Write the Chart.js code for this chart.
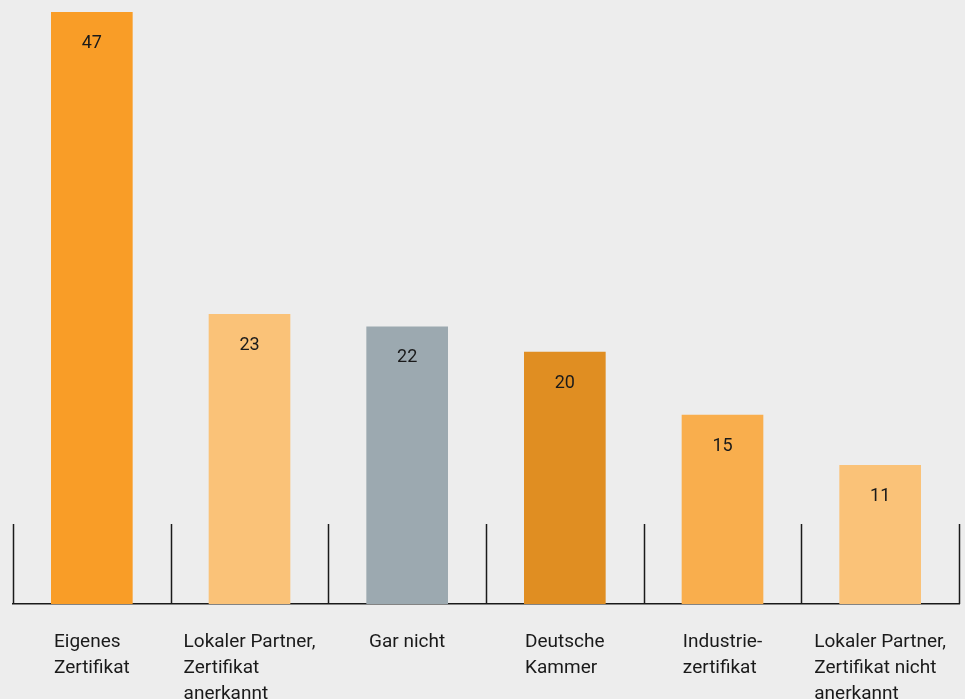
<!DOCTYPE html>
<html lang="de">
<head>
<meta charset="utf-8">
<title>Zertifikate</title>
<script src="https://cdn.jsdelivr.net/npm/chart.js@4/dist/chart.umd.min.js"></script>
<style>
    html, body {
        margin: 0;
        padding: 0;
        background: #ededed;
    }
    #wrap {
        width: 965px;
        height: 699px;
        position: relative;
    }
</style>
</head>
<body>
<div id="wrap"><canvas id="certChart"></canvas></div>
<script>
    const categories = [
        ['Eigenes', 'Zertifikat'],
        ['Lokaler Partner,', 'Zertifikat', 'anerkannt'],
        ['Gar nicht'],
        ['Deutsche', 'Kammer'],
        ['Industrie-', 'zertifikat'],
        ['Lokaler Partner,', 'Zertifikat nicht', 'anerkannt']
    ];
    const values = [47, 23, 22, 20, 15, 11];
    const barColors = ['#f99d27', '#fac278', '#9ca9b0', '#e08e22', '#f9ae4d', '#fac278'];

    const FONT = 'Roboto, "DejaVu Sans", sans-serif';

    // value printed inside the top of each bar
    const valueLabels = {
        id: 'valueLabels',
        afterDatasetsDraw(chart) {
            const ctx = chart.ctx;
            const meta = chart.getDatasetMeta(0);
            ctx.save();
            ctx.font = '18px ' + FONT;
            ctx.fillStyle = '#1a1a1a';
            ctx.textAlign = 'center';
            ctx.textBaseline = 'middle';
            meta.data.forEach((bar, i) => {
                ctx.fillText(String(values[i]), bar.x, bar.y + 31);
            });
            ctx.restore();
        }
    };

    // short dividers between categories plus left-aligned label blocks
    const categoryFrame = {
        id: 'categoryFrame',
        afterDraw(chart) {
            const ctx = chart.ctx;
            const area = chart.chartArea;
            const n = categories.length;
            const step = (area.right - area.left) / n;

            ctx.save();
            ctx.strokeStyle = '#1a1a1a';
            ctx.lineWidth = 1.5;
            for (let i = 0; i <= n; i++) {
                const x = Math.round(area.left + i * step) + 0.5;
                ctx.beginPath();
                ctx.moveTo(x, area.bottom);
                ctx.lineTo(x, area.bottom - 80);
                ctx.stroke();
            }

            ctx.font = '19px ' + FONT;
            ctx.fillStyle = '#1a1a1a';
            ctx.textAlign = 'left';
            ctx.textBaseline = 'alphabetic';
            const meta = chart.getDatasetMeta(0);
            categories.forEach((lines, i) => {
                const w = Math.max(...lines.map(l => ctx.measureText(l).width));
                let left = meta.data[i].x - w / 2;
                left = Math.min(left, chart.width - 2 - w);
                lines.forEach((line, j) => {
                    ctx.fillText(line, left, area.bottom + 43 + j * 26);
                });
            });
            ctx.restore();
        }
    };

    const ctx = document.getElementById('certChart').getContext('2d');
    new Chart(ctx, {
        type: 'bar',
        data: {
            labels: categories.map(c => c.join(' ')),
            datasets: [{
                data: values,
                backgroundColor: barColors,
                borderWidth: 0,
                barThickness: 81
            }]
        },
        options: {
            responsive: true,
            maintainAspectRatio: false,
            animation: false,
            layout: {
                padding: { top: 12, left: 13, right: 6, bottom: 87 }
            },
            plugins: {
                legend: { display: false },
                tooltip: { enabled: false }
            },
            scales: {
                x: {
                    grid: { display: false },
                    ticks: { display: false },
                    border: { display: true, color: '#1a1a1a', width: 1.5 }
                },
                y: {
                    display: false,
                    min: 0,
                    max: 47
                }
            }
        },
        plugins: [valueLabels, categoryFrame]
    });
</script>
</body>
</html>
